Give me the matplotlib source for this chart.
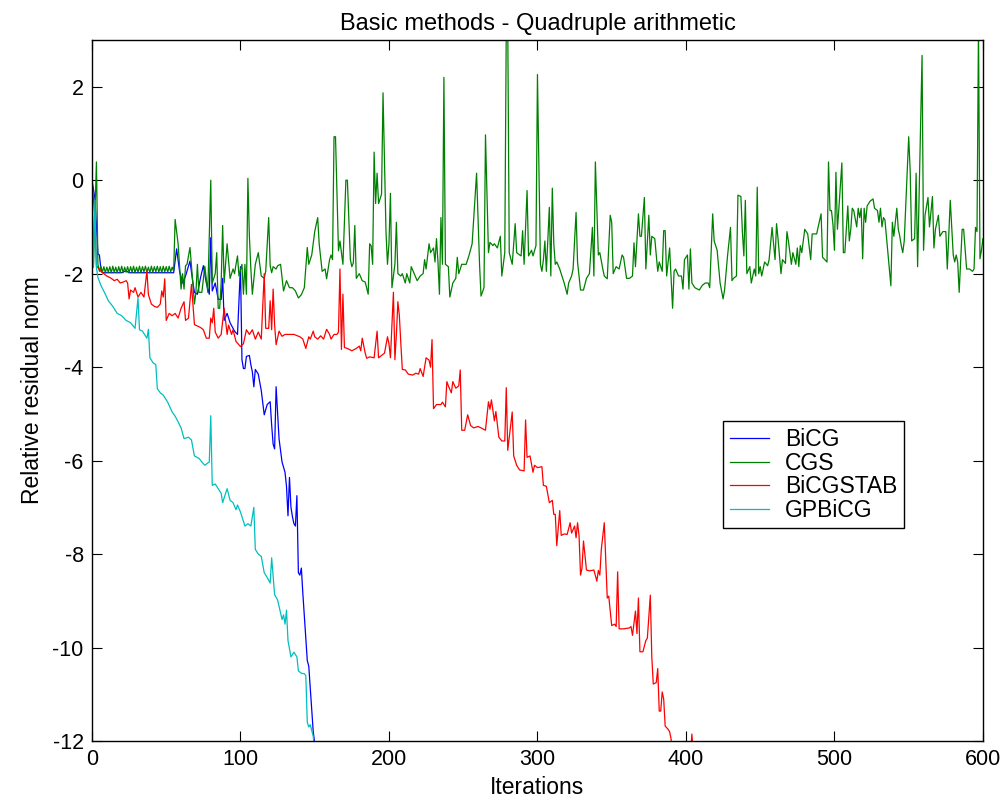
import matplotlib
matplotlib.use("Agg")
import matplotlib.pyplot as plt

# ---------------- data ----------------
bicg_x = [0, 2, 4, 5, 6, 7, 20, 22, 23, 25, 55, 57, 59, 61, 63, 66, 68, 69, 71, 73, 75, 77, 79, 80, 81,
          83, 85, 87, 88, 89, 91, 93, 96, 98, 100, 101, 102, 103, 104, 106, 107, 108, 109, 110, 112,
          114, 116, 118, 120, 121, 122, 123, 124, 126, 128, 130, 131, 132, 133, 134, 135, 136, 137,
          138, 139, 140, 141, 142, 145, 146, 149, 151]
bicg_y = [0.0, -0.39, -1.58, -1.6, -1.9, -1.98, -1.98, -1.95, -1.94, -1.98, -1.98, -1.47, -1.95, -2.2,
          -2.05, -1.73, -2.2, -2.4, -2.44, -2.1, -1.83, -2.2, -2.44, -1.23, -2.37, -2.2, -2.55, -2.55,
          -2.1, -3.0, -2.85, -3.05, -3.23, -3.3, -1.85, -3.84, -4.03, -4.03, -3.77, -3.75, -3.95, -4.1,
          -4.42, -4.05, -4.15, -4.5, -5.02, -4.8, -4.74, -5.24, -5.65, -5.75, -4.42, -5.54, -6.03,
          -6.25, -6.55, -7.18, -6.36, -7.0, -7.2, -7.35, -7.4, -6.75, -8.4, -8.45, -8.3, -8.84,
          -10.28, -10.4, -11.8, -12.3]

cgs_x = [0, 1, 3, 4,
         5, 6, 7, 8, 9, 10, 11, 12, 13, 14, 15, 16, 17, 18, 19, 20, 21, 22, 23, 24, 25, 26, 27, 28,
         29, 30, 31, 32, 33, 34, 35, 36, 37, 38, 39, 40, 41, 42, 43, 44, 45, 46, 47, 48, 49, 50, 51,
         52, 53, 54, 55,
         56, 58, 60, 61, 62, 63, 64, 66, 67, 69, 70, 71, 72, 74, 76, 78, 80, 81, 83, 84, 85, 86, 87,
         88, 89, 91, 93, 95, 96, 97, 98, 99, 101, 102, 103, 104, 105, 106, 107, 108, 110, 112, 114,
         116, 117, 119, 120, 121, 122, 124, 125, 127, 129, 131, 133, 135, 137, 139, 141, 143, 145,
         146, 148, 150, 152, 153, 155, 157, 158, 160, 161, 162, 163, 164, 166, 167, 168, 169, 171,
         172, 174, 175, 176, 177, 178, 180, 182, 184, 186, 187, 188, 189, 190, 191, 192, 193, 195,
         196, 198, 199, 200, 201, 202, 204, 205, 206, 208, 209, 211, 212, 214, 215, 217, 219, 221,
         223, 224, 225, 227, 228, 230, 231, 232, 233, 234, 235, 236, 237, 238, 240, 241, 243, 245,
         246, 247, 249, 252, 254, 256, 259, 261, 262, 264, 265, 267, 268, 270, 271, 273, 275, 276,
         278, 279, 280, 281, 283, 285, 286, 288, 289, 290, 291, 293, 294, 296, 297, 299, 300, 302,
         303, 304, 305, 306, 308, 309, 310, 311, 312, 313, 315, 316, 318, 320, 321, 323, 324, 326,
         327, 329, 331, 333, 335, 337, 338, 339, 341, 342, 344, 345, 347, 349, 350, 351, 353, 355,
         357, 358, 360, 362, 364, 365, 366, 368, 369, 370, 372, 373, 375, 376, 377, 379, 381, 382,
         384, 385, 386, 387, 389, 391, 392, 393, 395, 397, 398, 399, 401, 402, 403, 404, 406, 409,
         411, 413, 415, 416, 418, 419, 421, 423, 425, 426, 428, 430, 431, 432, 434, 435, 437, 438,
         439, 440, 441, 443, 444, 446, 447, 448, 449, 450, 451, 453, 455, 456, 458, 460, 461, 462,
         464, 465, 467, 468, 469, 471, 472, 474, 475, 476, 477, 478, 480, 482, 484, 485, 488, 491,
         492, 495, 496, 497, 498, 499, 500, 501, 502, 503, 505, 506, 507, 509, 510, 511, 512, 513,
         515, 516, 517, 518, 519, 520, 521, 522, 524, 526, 527, 529, 530, 531, 532, 533, 534, 538,
         539, 540, 542, 543, 544, 545, 546, 547, 550, 551, 552, 554, 555, 556, 559, 560, 561, 563,
         564, 566, 567, 568, 570, 571, 573, 575, 576, 578, 580, 581, 582, 583, 584, 586, 587, 589,
         591, 593, 594, 595, 596, 597, 598, 599, 600]
cgs_y = [0.0, -1.8, 0.39, -1.8,
         -1.95, -1.84, -1.97, -1.85, -1.98, -1.86, -1.97, -1.85, -1.98, -1.84, -1.97, -1.86, -1.98,
         -1.85, -1.97, -1.84, -1.98, -1.86, -1.97, -1.85, -1.98, -1.85, -1.97, -1.84, -1.98, -1.86,
         -1.97, -1.84, -1.98, -1.85, -1.96, -1.84, -1.97, -1.86, -1.98, -1.84, -1.97, -1.85, -1.96,
         -1.84, -1.97, -1.85, -1.98, -1.84, -1.96, -1.85, -1.97, -1.84, -1.96, -1.86, -1.95,
         -0.84, -1.36, -2.33, -2.0, -2.33, -1.83, -1.8, -1.44, -1.83, -2.65, -2.4, -1.8, -2.4, -2.4,
         -1.84, -2.4, 0.0, -2.2, -2.0, -1.55, -2.74, -2.74, -2.2, -0.97, -2.2, -1.36, -2.1, -1.9,
         -2.0, -1.8, -1.62, -2.05, -1.8, -2.44, -1.8, -2.44, 0.04, -1.2, -1.9, -2.44, -1.8, -1.55,
         -2.05, -2.1, -1.95, -0.8, -1.83, -1.98, -1.85, -1.9, -1.83, -1.8, -2.37, -2.15, -2.3, -2.3,
         -2.37, -2.52, -2.45, -2.3, -1.44, -1.8, -1.6, -1.1, -0.8, -1.36, -1.95, -1.9, -2.11, -1.7,
         -1.6, -1.7, 0.93, 0.93, -1.51, -1.3, -1.55, -1.8, 0.0, 0.0, -1.7, -1.85, -1.77, -0.97, -2.1,
         -2.0, -2.15, -2.18, -2.44, -1.36, -1.4, -1.8, 0.6, -0.5, 0.15, -0.5, -0.3, 1.87, -1.1,
         -1.8, -1.36, -0.28, -2.3, -1.8, -0.9, -2.0, -2.05, -2.0, -2.2, -2.0, -2.2, -1.85, -2.0,
         -2.15, -2.05, -2.0, -1.7, -1.9, -1.36, -1.55, -1.45, -1.75, -1.25, -1.75, -2.44, -0.8,
         -1.8, 2.2, -1.8, -1.85, -2.5, -2.2, -2.1, -1.65, -2.0, -1.8, -1.8, -1.6, -1.36, 0.15, -1.8,
         -2.48, -2.3, 0.97, -1.55, -1.33, -1.4, -1.36, -1.45, -1.2, -2.05, -1.55, 3.3, 3.3, -1.55,
         -1.8, -0.93, -1.55, -1.6, -1.62, -1.08, -1.8, -0.22, -1.62, -1.5, -1.62, -1.4, 2.26, -1.8,
         -1.95, -1.7, -1.3, -1.95, -0.58, -2.05, -0.17, -1.36, -1.8, -1.75, -1.9, -2.0, -2.2, -2.44,
         -2.2, -2.05, -1.9, -0.69, -1.75, -2.35, -2.35, -2.1, -2.0, -1.01, -2.05, 0.39, -1.6, -1.55,
         -1.9, -2.05, -2.11, -0.75, -0.9, -2.0, -1.85, -1.9, -1.6, -1.65, -2.1, -2.1, -2.05, -1.34,
         -1.85, -0.72, -1.2, -1.2, -0.37, -1.9, -0.75, -1.6, -1.2, -1.25, -1.95, -1.75, -1.95,
         -1.08, -1.08, -2.05, -1.45, -2.74, -1.95, -1.9, -2.05, -2.05, -2.33, -1.7, -1.6, -2.33,
         -1.47, -2.2, -2.3, -2.35, -2.25, -2.2, -2.2, -2.3, -0.72, -1.3, -1.5, -2.2, -2.54, -2.35,
         -1.62, -1.01, -2.15, -2.1, -2.05, -0.32, -0.35, -1.1, -1.62, -0.43, -2.0, -1.85, -2.2,
         -1.9, -2.05, -0.15, -2.0, -1.85, -2.05, -1.75, -1.83, -1.7, -1.01, -1.7, -0.93, -1.25,
         -2.0, -1.7, -1.78, -1.1, -1.3, -1.8, -1.55, -1.8, -1.45, -1.85, -1.4, -1.55, -1.05, -1.15,
         -1.7, -1.15, -1.15, -0.72, -1.65, -1.75, 0.39, -0.65, -0.65, -0.95, -1.5, 0.17, -1.05,
         -0.6, 0.37, -1.55, -1.55, -0.55, -1.3, -1.05, -0.6, -0.65, -1.0, -0.6, -0.8, -0.6, -1.68,
         -0.6, -0.9, -0.55, -0.45, -0.4, -0.6, -0.65, -0.9, -0.6, -1.0, -0.8, -0.85, -2.26, -0.9,
         -1.2, -0.6, -1.05, -1.2, -1.4, -1.55, -1.3, 0.93, 0.2, -1.3, -1.25, 0.15, -1.85, 2.67,
         -1.5, -0.75, -0.37, -1.0, -0.35, -1.45, -1.05, -0.75, -1.2, -1.1, -1.1, -1.9, -0.43, -1.6,
         -1.75, -1.6, -1.75, -2.4, -1.05, -1.05, -1.9, -1.9, -1.95, -1.9, -1.01, -1.1, 3.3, -1.68,
         -1.5, -1.25]

bicgstab_x = [0, 2, 3, 4, 6, 8, 10, 13, 15, 17, 19, 21, 23, 24, 25, 26, 28, 29, 31, 33, 35, 37, 38,
              40, 42, 44, 46, 47, 48, 49, 50, 52, 54, 56, 58, 60, 62, 63, 65, 67, 69, 71, 73, 75,
              77, 79, 80, 81, 82, 83, 85, 87, 89, 91, 92, 94, 95, 97, 100, 102, 104, 106, 108, 110,
              112, 114, 116, 117, 119, 120, 121, 122, 123, 124, 126, 128, 130, 133, 136, 140, 142,
              144, 146, 147, 149, 150, 152, 154, 156, 158, 160, 161, 163, 165, 166, 167, 168, 169,
              170, 172, 175, 178, 180, 181, 182, 184, 185, 187, 190, 192, 193, 195, 197, 198, 199,
              200, 201, 203, 204, 205, 206, 207, 208, 209, 211, 213, 216, 218, 220, 221, 223, 225,
              227, 228, 229, 230, 232, 235, 236, 238, 239, 240, 242, 243, 245, 247, 248, 249, 251,
              253, 255, 257, 260, 262, 265, 267, 268, 269, 271, 272, 274, 276, 278, 279, 280, 283,
              284, 286, 288, 291, 292, 293, 295, 297, 298, 300, 303, 304, 306, 308, 310, 311, 312,
              313, 315, 316, 318, 320, 322, 323, 325, 326, 327, 328, 329, 330, 331, 333, 335, 338,
              340, 341, 342, 343, 345, 347, 348, 350, 352, 353, 354, 355, 358, 362, 363, 364, 366,
              367, 368, 369, 371, 373, 374, 376, 377, 378, 380, 381, 382, 383, 384, 385, 386, 388,
              389, 390, 391, None, 403, 404, 405]
bicgstab_y = [0.0, -0.8, -1.83, -1.87, -1.95, -2.0, -2.05, -2.1, -2.15, -2.12, -2.2, -2.18, -2.15,
              -2.2, -2.54, -2.35, -2.4, -2.3, -2.5, -2.4, -2.5, -1.94, -2.45, -2.65, -2.7, -2.72,
              -2.65, -2.37, -2.5, -2.11, -3.0, -2.85, -2.9, -2.85, -2.95, -2.74, -2.6, -3.0, -2.95,
              -2.23, -3.09, -3.12, -3.15, -3.2, -3.38, -3.38, -2.95, -3.05, -2.74, -3.25, -3.38,
              -3.3, -2.74, -3.3, -3.1, -3.3, -3.2, -3.45, -3.56, -3.5, -3.2, -3.3, -3.2, -3.4, -3.25,
              -3.4, -2.0, -3.17, -3.17, -2.58, -3.2, -2.33, -3.1, -3.52, -3.23, -3.34, -3.3, -3.3,
              -3.3, -3.35, -3.4, -3.6, -3.35, -3.4, -3.23, -3.35, -3.4, -3.33, -3.4, -3.19, -3.3,
              -3.4, -3.3, -3.3, -3.25, -1.9, -3.62, -2.44, -3.58, -3.6, -3.65, -3.6, -3.55, -3.65,
              -3.38, -3.7, -3.81, -3.78, -3.8, -3.23, -3.8, -3.75, -3.7, -3.52, -3.35, -3.5, -3.8,
              -2.4, -3.84, -3.3, -2.6, -2.9, -3.5, -4.05, -4.06, -4.15, -4.17, -4.13, -4.15, -4.03,
              -4.2, -3.8, -3.85, -4.0, -3.41, -4.89, -4.8, -4.8, -4.75, -4.85, -4.31, -4.4, -4.55,
              -4.31, -4.45, -4.4, -4.06, -5.35, -5.35, -5.02, -5.25, -5.3, -5.27, -5.3, -5.35, -4.74,
              -4.9, -4.7, -5.15, -4.95, -5.5, -5.58, -5.58, -4.44, -5.78, -4.96, -5.9, -6.1, -6.2,
              -6.22, -5.13, -5.93, -5.9, -6.25, -6.1, -6.15, -6.13, -6.53, -6.55, -6.9, -6.85, -7.15,
              -7.15, -7.82, -7.07, -7.6, -7.57, -7.58, -7.33, -7.55, -7.4, -7.65, -7.33, -7.6, -8.45,
              -8.3, -7.72, -8.34, -8.36, -8.34, -8.58, -8.35, -8.45, -7.9, -7.33, -8.94, -8.9, -9.53,
              -9.5, -9.55, -8.38, -9.6, -9.6, -9.58, -9.55, -9.74, -9.22, -9.7, -8.94, -10.09, -10.09,
              -9.85, -9.8, -8.88, -10.2, -10.78, -10.75, -10.45, -11.36, -11.36, -10.95, -11.1,
              -11.68, -11.75, -11.8, -11.96, -12.3, None, -12.3, -11.85, -12.3]

gpbicg_x = [0, 1, 2, 3, 4, 6, 9, 11, 14, 17, 20, 23, 26, 29, 31, 32, 34, 37, 38, 39, 41, 43, 44, 46,
            48, 51, 54, 56, 58, 60, 62, 65, 67, 69, 72, 74, 76, 78, 79, 80, 81, 83, 85, 87, 88, 90,
            91, 93, 95, 97, 98, 100, 103, 105, 107, 109, 110, 112, 114, 116, 118, 120, 121, 123, 125,
            128, 129, 130, 131, 132, 134, 136, 138, 139, 141, 143, 144, 145, 146, 147, 149, 150]
gpbicg_y = [0.0, -1.87, -0.43, -1.87, -2.08, -2.25, -2.44, -2.58, -2.7, -2.85, -2.9, -3.0, -3.05,
            -3.17, -2.52, -3.2, -3.23, -3.38, -3.19, -3.8, -3.9, -3.95, -4.46, -4.55, -4.6, -4.75,
            -4.96, -5.05, -5.17, -5.3, -5.53, -5.5, -5.56, -5.9, -5.95, -6.03, -6.1, -6.05, -6.03,
            -5.04, -6.53, -6.5, -6.6, -6.7, -6.9, -6.7, -6.6, -6.85, -6.9, -7.05, -6.95, -7.1, -7.4,
            -7.35, -7.4, -7.0, -7.9, -8.0, -8.05, -8.4, -8.5, -8.62, -8.08, -8.87, -8.98, -9.4,
            -9.3, -9.5, -9.2, -9.85, -10.2, -10.1, -10.2, -10.5, -10.55, -10.56, -10.6, -11.6,
            -11.7, -11.65, -11.9, -12.2]

series_labels = ["BiCG", "CGS", "BiCGSTAB", "GPBiCG"]
x_ticks = [0, 100, 200, 300, 400, 500, 600]
y_ticks = [-12, -10, -8, -6, -4, -2, 0, 2]

# ---------------- style ----------------
plt.rcParams["font.family"] = ["Liberation Sans", "DejaVu Sans"]
plt.rcParams["axes.unicode_minus"] = False

fig = plt.figure(figsize=(10.03, 8.08), dpi=100)
ax = fig.add_axes([0.0917, 0.0829, 0.8883, 0.8676])

lw = 0.9
nan = float("nan")
ax.plot(bicg_x, bicg_y, color=(0, 0, 1), lw=lw, label=series_labels[0])
ax.plot(cgs_x, cgs_y, color=(0, 0.5, 0), lw=lw, label=series_labels[1])
ax.plot([v if v is not None else nan for v in bicgstab_x],
        [v if v is not None else nan for v in bicgstab_y],
        color=(1, 0, 0), lw=lw, label=series_labels[2])
ax.plot(gpbicg_x, gpbicg_y, color=(0, 0.75, 0.75), lw=lw, label=series_labels[3])

ax.set_xlim(0, 600)
ax.set_ylim(-12, 3)
ax.set_xticks(x_ticks)
ax.set_yticks(y_ticks)
ax.tick_params(direction="in", top=True, right=True, length=7, width=0.8, labelsize=15.5, pad=6)
for s in ax.spines.values():
    s.set_linewidth(1.0)

ax.set_title("Basic methods - Quadruple arithmetic", fontsize=17, pad=7)
ax.set_xlabel("Iterations", fontsize=16.5, labelpad=4)
ax.set_ylabel("Relative residual norm", fontsize=16.5, labelpad=6)

leg = ax.legend(loc="upper left", bbox_to_anchor=(0.708, 0.456), fontsize=16.5,
                frameon=True, fancybox=False, edgecolor="black", framealpha=1,
                borderaxespad=0, handlelength=1.7, handletextpad=0.7, labelspacing=0.02,
                borderpad=0.3)
leg.get_frame().set_linewidth(1.0)

fig.savefig("out.png", dpi=100)
